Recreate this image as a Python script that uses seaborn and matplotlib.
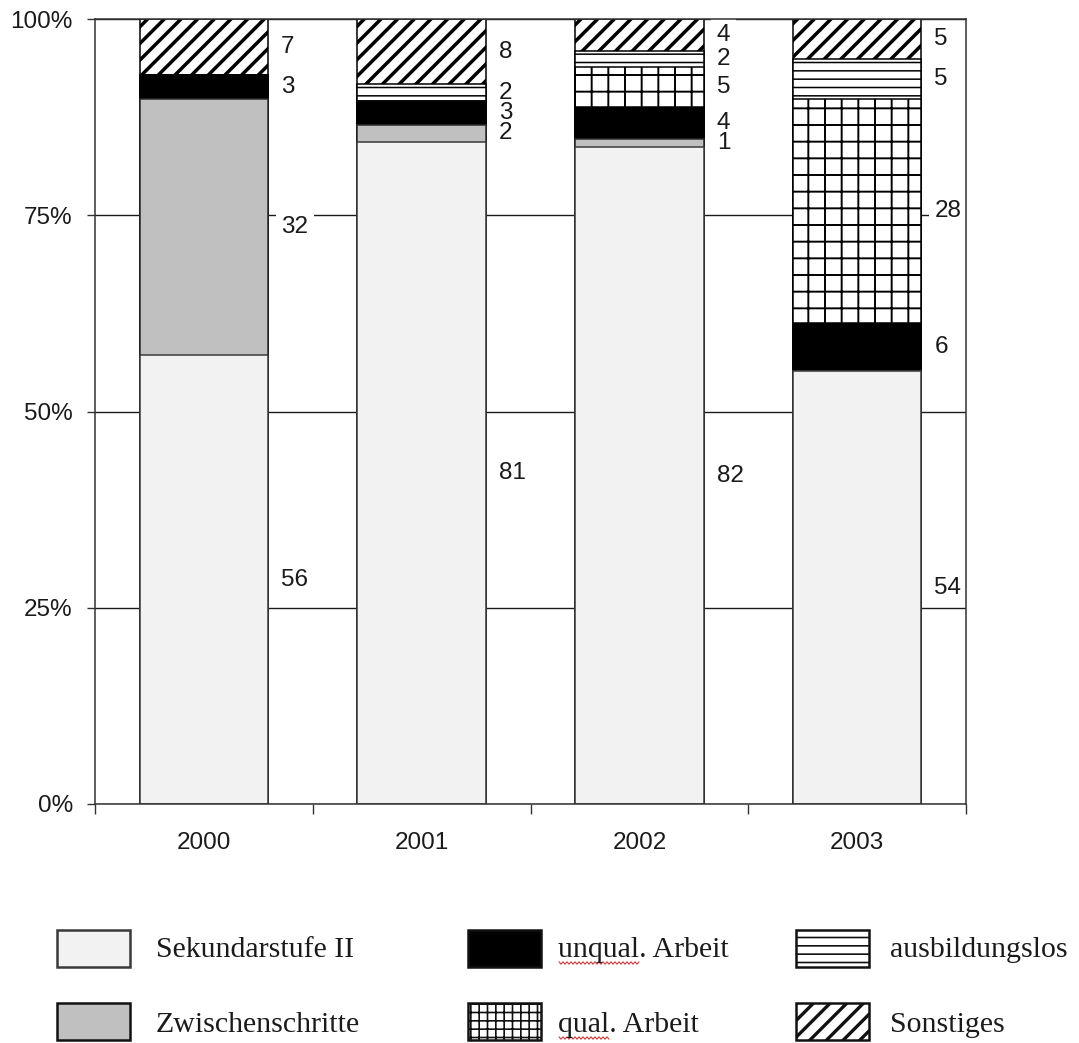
import numpy as np
import pandas as pd
import matplotlib
matplotlib.use("Agg")
import matplotlib.pyplot as plt
import seaborn as sns
from matplotlib.patches import Rectangle
from matplotlib.lines import Line2D
from matplotlib.transforms import IdentityTransform

# ---- data -------------------------------------------------------------
years = ["2000", "2001", "2002", "2003"]
sekundarstufe = [56, 81, 82, 54]
zwischenschritte = [32, 2, 1, 0]
unqual_arbeit = [3, 3, 4, 6]
qual_arbeit = [0, 0, 5, 28]
ausbildungslos = [0, 2, 2, 5]
sonstiges = [7, 8, 4, 5]

series_names = ["Sekundarstufe II", "Zwischenschritte", "unqual. Arbeit",
                "qual. Arbeit", "ausbildungslos", "Sonstiges"]
series_values = [sekundarstufe, zwischenschritte, unqual_arbeit,
                 qual_arbeit, ausbildungslos, sonstiges]

# ---- styles -----------------------------------------------------------
styles = {
    "Sekundarstufe II": dict(fc="#f2f2f2", ec="#3a3a3a", hatch="", hlw=1.0, lhatch="", lhlw=1.0),
    "Zwischenschritte": dict(fc="#c0c0c0", ec="#2a2a2a", hatch="", hlw=1.0, lhatch="", lhlw=1.0),
    "unqual. Arbeit": dict(fc="#000000", ec="#000000", hatch="", hlw=1.0, lhatch="", lhlw=1.0),
    "qual. Arbeit": dict(fc="#ffffff", ec="#000000", hatch="+", hlw=1.4, lhatch="++", lhlw=1.2),
    "ausbildungslos": dict(fc="#ffffff", ec="#000000", hatch="--", hlw=1.1, lhatch="--", lhlw=1.2),
    "Sonstiges": dict(fc="#ffffff", ec="#000000", hatch="//", hlw=2.5, lhatch="//", lhlw=2.4),
}

sns.set_theme(style="ticks")
plt.rcParams["font.family"] = ["Liberation Sans", "DejaVu Sans"]
plt.rcParams["hatch.color"] = "black"

W, H = 1079, 1043
fig = plt.figure(figsize=(W / 100, H / 100), dpi=100)
fig.patch.set_facecolor("white")
ax = fig.add_axes([95 / W, 1 - 804 / H, (966 - 95) / W, (804 - 19) / H])

df = pd.DataFrame(dict(zip(series_names, series_values)), index=years)
pct = df.div(df.sum(axis=1), axis=0) * 100
cum = pct.cumsum(axis=1)

BAR_W = 0.59
# stacked bars: draw cumulative totals from the top layer downwards
for name in reversed(series_names):
    st = styles[name]
    n_before = len(ax.patches)
    with plt.rc_context({"hatch.linewidth": st["hlw"]}):
        sns.barplot(x=years, y=cum[name].values, ax=ax, color=st["fc"],
                    saturation=1, width=BAR_W, edgecolor=st["ec"],
                    linewidth=1.1, hatch=st["hatch"] or None, errorbar=None)
    for p in ax.patches[n_before:]:
        p.set_facecolor(st["fc"])
        if hasattr(p, "set_hatch_linewidth"):
            p.set_hatch_linewidth(st["hlw"])

ax.set_xlim(-0.5, 3.5)
ax.set_ylim(0, 100)
ax.set_xlabel("")
ax.set_ylabel("")

FS = 17.5
ax.set_yticks([0, 25, 50, 75, 100])
ax.set_yticklabels(["0%", "25%", "50%", "75%", "100%"])
ax.set_xticks([-0.5, 0.5, 1.5, 2.5, 3.5])
ax.set_xticklabels([])
ax.set_xticks(range(len(years)), minor=True)
ax.set_xticklabels(years, minor=True)

ax.tick_params(axis="x", which="major", length=7, width=1, color="#333", direction="out")
ax.tick_params(axis="x", which="minor", length=0, pad=20, labelsize=FS, labelcolor="#1a1a1a")
ax.tick_params(axis="y", length=6, width=1, color="#333", direction="out", pad=10,
               labelsize=FS, labelcolor="#1a1a1a")

ax.set_axisbelow(True)
ax.yaxis.grid(True, color="#1a1a1a", lw=1.0)
ax.xaxis.grid(False)
for side in ["left", "right", "top", "bottom"]:
    ax.spines[side].set_visible(True)
    ax.spines[side].set_color("#333")
    ax.spines[side].set_linewidth(1.1)
    ax.spines[side].set_zorder(6)

# value labels to the right of each segment
label_x_off = BAR_W / 2 + 0.06
for i, yr in enumerate(years):
    for name in series_names:
        v = df.loc[yr, name]
        if v == 0:
            continue
        yc = cum.loc[yr, name] - pct.loc[yr, name] / 2
        ax.text(i + label_x_off, yc, str(v), ha="left", va="center", fontsize=FS,
                color="white", zorder=3,
                bbox=dict(boxstyle="square,pad=0.22", fc="white", ec="none"))
        ax.text(i + label_x_off, yc, str(v), ha="left", va="center", fontsize=FS,
                color="#1a1a1a", zorder=4)

# ---- legend (two rows, three columns) ---------------------------------
col_pos = [(57, 156), (468, 558), (796, 890)]
row_top = [930, 1003]
row_base = [957, 1032]
box_w, box_h = 73, 37
serif = ["Liberation Serif", "DejaVu Serif"]
legend_texts = {}
for k, name in enumerate(series_names):
    c, r = divmod(k, 2)
    st = styles[name]
    bx, tx = col_pos[c]
    with plt.rc_context({"hatch.linewidth": st["lhlw"]}):
        rect = Rectangle((bx / W, 1 - (row_top[r] + box_h) / H), box_w / W, box_h / H,
                         transform=fig.transFigure, facecolor=st["fc"],
                         edgecolor="#111" if name != "Sekundarstufe II" else "#3a3a3a",
                         lw=1.8, hatch=st["lhatch"] or None)
    if hasattr(rect, "set_hatch_linewidth"):
        rect.set_hatch_linewidth(st["lhlw"])
    fig.add_artist(rect)
    legend_texts[name] = fig.text(tx / W, 1 - row_base[r] / H, name, family=serif,
                                  fontsize=21.5, ha="left", va="baseline", color="#1a1a1a")

# spell-check style wavy underline below the abbreviated words
fig.canvas.draw()
renderer = fig.canvas.get_renderer()
for name, word in [("unqual. Arbeit", "unqual"), ("qual. Arbeit", "qual")]:
    t = legend_texts[name]
    tmp = fig.text(*t.get_position(), word, family=serif, fontsize=21.5,
                   ha="left", va="baseline")
    bb = tmp.get_window_extent(renderer)
    tmp.remove()
    x0, x1 = bb.x0 + 1, bb.x1
    base_y = t.get_transform().transform(t.get_position())[1]
    xs = np.arange(x0, x1, 2.0)
    ys = base_y - 6 + np.where(np.arange(len(xs)) % 2 == 0, 1.2, -1.2)
    fig.add_artist(Line2D(xs, ys, transform=IdentityTransform(), color="#d03a3a", lw=0.8))

fig.savefig("out.png", dpi=100, facecolor="white")
